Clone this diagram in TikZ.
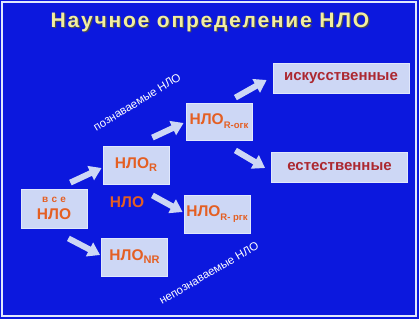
\documentclass[tikz,border=0pt]{standalone}
\usepackage{fontspec}
\setmainfont{Liberation Sans}
\usepackage{tikz}
\usetikzlibrary{arrows.meta, calc}
\usepackage{xcolor}

\definecolor{slideblue}{RGB}{12,24,222}
\definecolor{boxfill}{RGB}{205,215,245}
\definecolor{boxline}{RGB}{225,232,252}
\definecolor{ufoorange}{RGB}{228,95,35}
\definecolor{ufored}{RGB}{172,40,48}
\definecolor{titleyellow}{RGB}{242,238,160}

\begin{document}
\begin{tikzpicture}[x=1pt,y=-1pt,font=\bfseries,
  ufobox/.style={draw=boxline,line width=0.8pt,fill=boxfill,inner sep=0pt,
    minimum width=66pt,minimum height=38pt,text=ufoorange,font=\bfseries\fontsize{15.5}{17}\selectfont},
  widebox/.style={ufobox,minimum width=136pt,minimum height=30pt,text=ufored,
    font=\bfseries\fontsize{15}{17}\selectfont},
  blk/.style={boxfill,line width=6pt,-{Triangle[length=12pt,width=15pt]}},
  slope/.style={text=white,font=\fontsize{11.5}{13}\selectfont},
  titlefont/.style={font=\bfseries\fontsize{21}{24}\selectfont\addfontfeatures{LetterSpace=8.5}}]

% --- Fondo e cornice
\fill[slideblue] (0,0) rectangle (419,319);
\draw[boxline,line width=1.2pt] (2,2) rectangle (416,316);
\useasboundingbox (0,0) rectangle (419,319);

% --- Titolo
\node[titlefont,text=black!70] (titleshadow) at (211.2,23.7) {Научное определение НЛО};
\node[titlefont,text=titleyellow] (title) at (210,22.5) {Научное определение НЛО};

% --- Riquadri
\node[ufobox,minimum height=39pt,align=center] (all) at (54,208.5)
  {{\fontsize{10}{11}\selectfont в\,\,с\,\,е}\\[0pt]НЛО};
\node[ufobox] (R) at (136,165) {НЛО\raisebox{-3pt}{\fontsize{11}{12}\selectfont R}};
\node[ufobox] (NR) at (134.5,257) {НЛО\raisebox{-3pt}{\fontsize{11}{12}\selectfont NR}};
\node[ufobox,minimum height=37pt] (Rogk) at (219,121.5)
  {НЛО\raisebox{-4pt}{\fontsize{9.5}{11}\selectfont R-огк}};
\node[ufobox] (Rrgk) at (217,214)
  {НЛО\raisebox{-4pt}{\fontsize{9.5}{11}\selectfont R- ргк}};
\node[widebox] (art) at (341,78) {искусственные};
\node[widebox] (nat) at (339.5,167) {естественные};

% --- Testo libero
\node[text=ufoorange,font=\bfseries\fontsize{15.5}{17}\selectfont] (ufo) at (127,202) {НЛО};
\node[slope,rotate=31.4] (known) at (137,102) {познаваемые НЛО};
\node[slope,rotate=30] (unknown) at (209,273) {непознаваемые НЛО};

% --- Frecce
\draw[blk] ([xshift=-17pt,yshift=6pt]all.north east) -- ([xshift=-1pt,yshift=-3pt]R.west);
\draw[blk] ([xshift=-19pt,yshift=-10pt]all.south east) -- ([xshift=-1pt,yshift=2pt]NR.west);
\draw[blk] ([xshift=-17pt,yshift=8pt]R.north east) -- ([xshift=-2pt,yshift=-1.5pt]Rogk.west);
\draw[blk] ([xshift=-17pt,yshift=-11pt]R.south east) -- ([xshift=-1pt,yshift=2pt]Rrgk.west);
\draw[blk] ([xshift=-17pt,yshift=5pt]Rogk.north east) -- ([xshift=-6pt,yshift=-2pt]art.west);
\draw[blk] ([xshift=-17pt,yshift=-10pt]Rogk.south east) -- ([xshift=-6pt,yshift=-1pt]nat.west);

\end{tikzpicture}
\end{document}
